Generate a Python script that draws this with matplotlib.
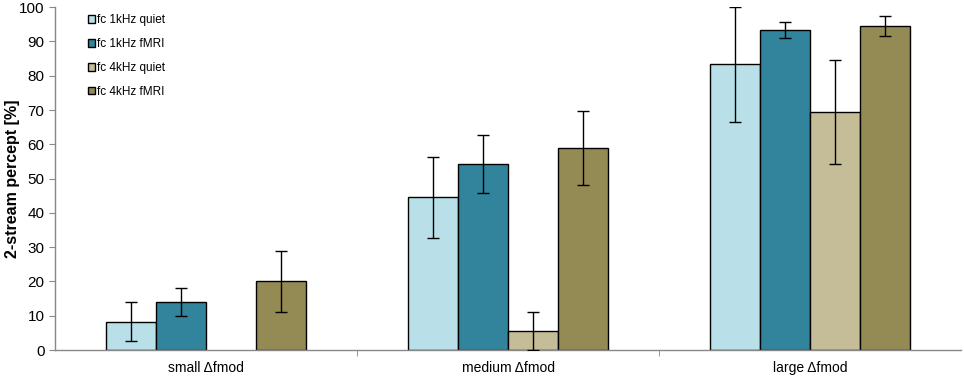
import numpy as np
from matplotlib import pyplot as plt

# Data
categories = ["small \u0394fmod", "medium \u0394fmod", "large \u0394fmod"]
series_names = ["fc 1kHz quiet", "fc 1kHz fMRI", "fc 4kHz quiet", "fc 4kHz fMRI"]
quiet_1k = [8.3, 44.5, 83.3]
fmri_1k = [14.0, 54.3, 93.3]
quiet_4k = [0.0, 5.5, 69.5]
fmri_4k = [20.0, 59.0, 94.6]
err_quiet_1k = [5.7, 11.9, 16.7]
err_fmri_1k = [4.0, 8.5, 2.3]
err_quiet_4k = [0.0, 5.6, 15.1]
err_fmri_4k = [9.0, 10.8, 2.9]

values = [quiet_1k, fmri_1k, quiet_4k, fmri_4k]
errors = [err_quiet_1k, err_fmri_1k, err_quiet_4k, err_fmri_4k]
colors = ["#B9E0E9", "#31849B", "#C4BD97", "#948A54"]

plt.rcParams['font.family'] = ['Liberation Sans', 'DejaVu Sans']

fig = plt.figure(figsize=(9.64, 3.76), dpi=100)
ax = fig.add_axes([0.057, 0.069, 0.94, 0.912])

x = np.arange(len(categories))
w = 0.1656
for i in range(4):
    pos = x + (i - 1.5) * w
    # zero-height bars are not drawn in the original
    show = [k for k in range(len(x)) if values[i][k] > 0]
    ax.bar(pos[show], np.array(values[i])[show], width=w, color=colors[i], edgecolor='black',
           linewidth=1.0, label=series_names[i], zorder=2)
    ax.errorbar(pos[show], np.array(values[i])[show], yerr=np.array(errors[i])[show],
                fmt='none', ecolor='black', elinewidth=1.0, capsize=4, capthick=1.0, zorder=3)

ax.set_xlim(-0.5, 2.5)
ax.set_ylim(0, 100)
ax.set_yticks(range(0, 101, 10))
ax.set_xticks(x)
ax.set_xticklabels(categories)
ax.set_xticks([0.5, 1.5], minor=True)
ax.tick_params(axis='x', which='major', length=0, pad=8, labelsize=10)
ax.tick_params(axis='x', which='minor', length=4, color='#888888', direction='out')
ax.tick_params(axis='y', length=4, color='#888888', direction='out', labelsize=11)

for s in ['top', 'right']:
    ax.spines[s].set_visible(False)
for s in ['left', 'bottom']:
    ax.spines[s].set_color('#888888')
    ax.spines[s].set_linewidth(1.0)

ax.set_ylabel("2-stream percept [%]", fontweight='bold', fontsize=11.5)
ax.yaxis.set_label_coords(-0.039, 0.5)

leg = ax.legend(loc='upper left', bbox_to_anchor=(0.025, 1.01), frameon=False,
                fontsize=8.5, handlelength=0.6, handleheight=0.6, handletextpad=0.15,
                labelspacing=1.0)

plt.savefig("out.png", dpi=100)
